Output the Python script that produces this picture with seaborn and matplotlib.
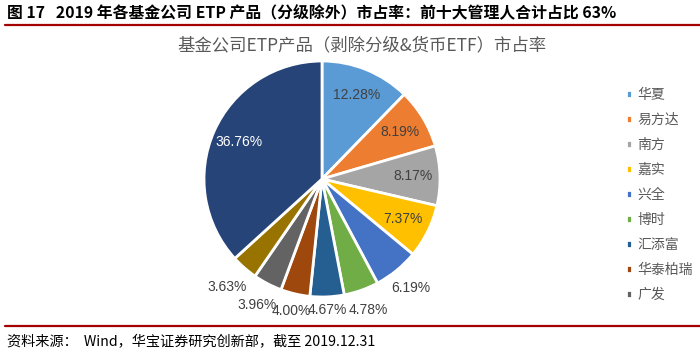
import numpy as np
import matplotlib
matplotlib.use("Agg")
import matplotlib.pyplot as plt
import seaborn as sns
from matplotlib.lines import Line2D

# --- Data ---
companies = ["华夏", "易方达", "南方", "嘉实", "兴全", "博时", "汇添富", "华泰柏瑞", "广发", "国泰", "其他"]
shares = [12.28, 8.19, 8.17, 7.37, 6.19, 4.78, 4.67, 4.00, 3.96, 3.63, 36.76]
legend_count = 9  # the legend in the source only lists the first nine

colors = ["#5B9BD5", "#ED7D31", "#A5A5A5", "#FFC000", "#4472C4", "#70AD47",
          "#255E91", "#9E480E", "#636363", "#997300", "#264478"]

# radial position of each percentage label (in pie radii); small slices sit outside
label_dist = [0.77, 0.77, 0.77, 0.77, 1.19, 1.18, 1.11, 1.15, 1.2, 1.22, 0.77]

TITLE = "图 17   2019 年各基金公司 ETP 产品（分级除外）市占率：前十大管理人合计占比 63%"
SUBTITLE = "基金公司ETP产品（剥除分级&货币ETF）市占率"
SOURCE = "资料来源：  Wind，华宝证券研究创新部，截至 2019.12.31"

sns.set_theme(style="white")
plt.rcParams['font.family'] = ['Noto Sans CJK SC', 'DejaVu Sans']

W, H = 700, 356
fig = plt.figure(figsize=(W / 100, H / 100), dpi=100)

# pie axes: centre at (322, 179) px, radius ~118 px
cx, cy, R = 322, 179, 118
side = 2.5 * R
ax = fig.add_axes([(cx - side / 2) / W, (H - cy - side / 2) / H, side / W, side / H])

wedges, texts, autotexts = ax.pie(
    shares, colors=colors, startangle=90, counterclock=False,
    autopct=lambda p: f"{p:.2f}%", pctdistance=0.77,
    wedgeprops=dict(edgecolor="white", linewidth=2),
    textprops=dict(fontsize=10, color="#404040", family=['Liberation Sans', 'DejaVu Sans']),
)
ax.set_xlim(-1.25, 1.25)
ax.set_ylim(-1.25, 1.25)
ax.set_aspect("equal")

for t, d in zip(autotexts, label_dist):
    x, y = t.get_position()
    r = np.hypot(x, y)
    t.set_position((x / r * d, y / r * d))
autotexts[-1].set_color("white")


# legend on the right: rows ~25 px apart, first row centred at y=95 px
def make_legend(spacing, top):
    lg = fig.legend(
        wedges[:legend_count], companies[:legend_count],
        loc="upper left", bbox_to_anchor=(619 / W, 1 - top / H),
        frameon=False, fontsize=10, handlelength=0.45, handleheight=0.45,
        handletextpad=0.35, labelspacing=spacing, borderpad=0,
    )
    for t in lg.get_texts():
        t.set_color("#595959")
    return lg


fs_px = 10 * 100 / 72
spacing, top = 0.6, 88
leg = make_legend(spacing, top)
fig.canvas.draw()
rend = fig.canvas.get_renderer()
centers = [H - t.get_window_extent(rend).y0 - t.get_window_extent(rend).height / 2 for t in leg.get_texts()]
row = (centers[-1] - centers[0]) / (legend_count - 1)
spacing = spacing + (25 - row) / fs_px
top = top + (95 - centers[0])
leg.remove()
leg = make_legend(spacing, top)

# header / footer
fig.text(7 / W, 1 - 13 / H, TITLE, fontsize=11.4, fontweight="bold", color="black", va="center")
fig.text(362 / W, 1 - 45 / H, SUBTITLE, fontsize=12.5, color="#595959", ha="center", va="center")
fig.text(7 / W, 1 - 342 / H, SOURCE, fontsize=10.2, color="black", va="center")
for yy in (25, 326):
    fig.add_artist(Line2D([5 / W, 1], [1 - yy / H, 1 - yy / H], color="#A50000", linewidth=1.6))

fig.savefig("out.png", dpi=100)
